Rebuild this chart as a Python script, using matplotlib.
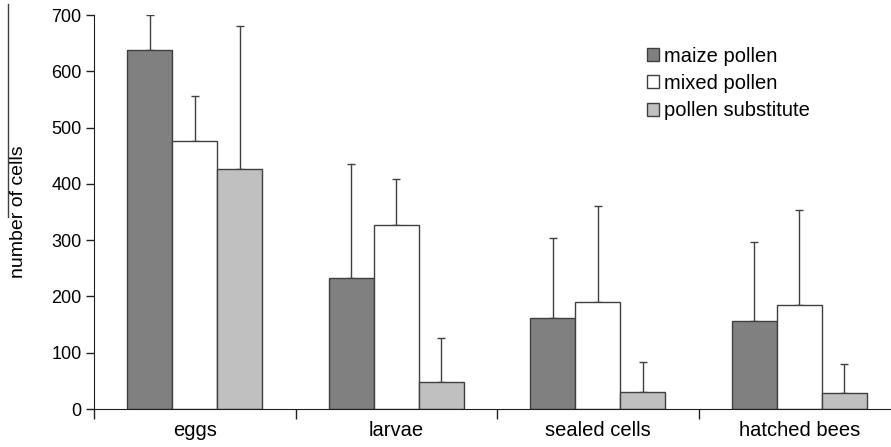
import matplotlib.pyplot as plt
import numpy as np

plt.rcParams["font.family"] = ["Liberation Sans", "DejaVu Sans"]

categories = ["eggs", "larvae", "sealed cells", "hatched bees"]
series = ["maize pollen", "mixed pollen", "pollen substitute"]
maize = [638, 232, 161, 157]
mixed = [476, 327, 190, 185]
substitute = [427, 48, 30, 28]
maize_err = [62, 204, 143, 139]
mixed_err = [80, 81, 171, 169]
substitute_err = [253, 79, 54, 52]

colors = ["#808080", "#ffffff", "#c0c0c0"]

fig = plt.figure(figsize=(8.91, 4.47), dpi=100)
ax = fig.add_axes([94 / 891, 38 / 447, 806 / 891, 394 / 447])

x = np.arange(len(categories))
w = 0.223
values = [maize, mixed, substitute]
errors = [maize_err, mixed_err, substitute_err]
for i, (vals, errs, col, name) in enumerate(zip(values, errors, colors, series)):
    ax.bar(x + (i - 1) * w, vals, w, color=col, edgecolor="#404040",
           linewidth=1.0, label=name, zorder=2)
    ax.errorbar(x + (i - 1) * w, vals, yerr=[np.zeros(len(errs)), errs],
                fmt="none", ecolor="#404040", elinewidth=1.0, capsize=3,
                capthick=1.0, zorder=1)

ax.set_xlim(-0.5, 3.5)
ax.set_ylim(0, 700)
ax.set_yticks(range(0, 701, 100))
ax.set_xticks(np.arange(-0.5, 4, 1))
ax.set_xticklabels([])
ax.set_xticks(x, minor=True)
ax.set_xticklabels(categories, minor=True)
ax.tick_params(axis="x", which="minor", length=0, labelsize=14.5, pad=9)
ax.tick_params(axis="x", which="major", length=7, width=1, direction="out",
               color="#202020")
ax.tick_params(axis="y", length=6, width=1, labelsize=13, pad=3,
               color="#202020")

for s in ["top", "right"]:
    ax.spines[s].set_visible(False)
for s in ["left", "bottom"]:
    ax.spines[s].set_color("#202020")

fig.text(19 / 891, 1 - 212 / 447, "number of cells", rotation=90,
         ha="center", va="center", fontsize=14)
fig.add_artist(plt.Line2D([8 / 891, 8 / 891], [1 - 4 / 447, 1 - 217 / 447],
                          color="#404040", linewidth=1))

leg = ax.legend(loc="upper left", bbox_to_anchor=(0.664, 0.966), frameon=False,
                fontsize=14.5, handlelength=0.6, handleheight=0.6,
                handletextpad=0.25, labelspacing=0.42, borderpad=0.4)

fig.savefig("out.png", dpi=100, facecolor="white")
